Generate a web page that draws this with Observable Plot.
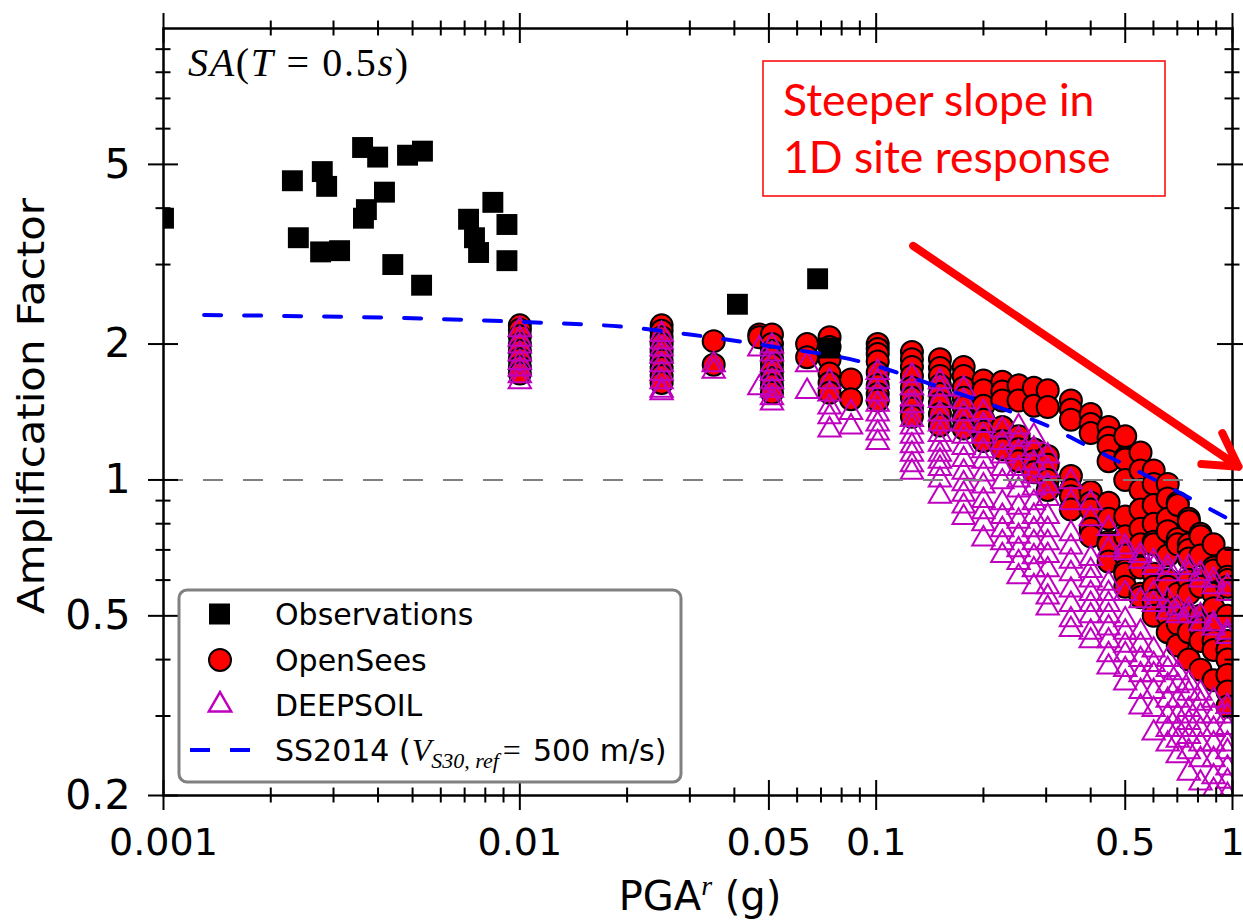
<!DOCTYPE html>
<html><head><meta charset="utf-8">
<script src="https://cdn.jsdelivr.net/npm/d3@7"></script>
<script src="https://cdn.jsdelivr.net/npm/@observablehq/plot@0.6"></script>
<style>body{margin:0;background:#fff;} svg{display:block;}</style>
</head><body><div id="chart"></div>
<script>
// ---------- data ----------
const observations = [
  [0.001,3.8],[0.0023,4.6],[0.00279,4.82],[0.00287,4.47],[0.00239,3.44],[0.00276,3.2],[0.00312,3.22],
  [0.00362,5.45],[0.00399,5.19],[0.00484,5.24],[0.00533,5.35],[0.00417,4.34],[0.00371,3.97],[0.00364,3.8],
  [0.0044,3.0],[0.0053,2.7],[0.00718,3.78],[0.00746,3.44],[0.00766,3.19],[0.0084,4.12],[0.0092,3.68],
  [0.0092,3.06],[0.0408,2.45],[0.0685,2.79],[0.074,1.96]
];
const openSeesCols = [
  [0.01, [2.2,2.15,2.08,2.0,1.93,1.85,1.78,1.72]],
  [0.025,[2.2,2.14,2.07,2.0,1.92,1.84,1.77,1.7,1.64]],
  [0.035,[2.03,1.8]],
  [0.047,[2.1,2.07]],
  [0.051,[2.1,2.0,1.93,1.86,1.8,1.74,1.68,1.62,1.56]],
  [0.064,[2.0,1.87]],
  [0.074,[2.07,1.97,1.85,1.72,1.64,1.56]],
  [0.085,[1.67,1.51]],
  [0.101,[2.0,1.95,1.9,1.83,1.73,1.62,1.55,1.5]],
  [0.126,[1.92,1.85,1.78,1.7,1.6,1.52,1.44,1.38]],
  [0.151,[1.85,1.77,1.7,1.62,1.55,1.48,1.4,1.32]],
  [0.176,[1.78,1.7,1.6,1.52,1.45,1.37,1.3]],
  [0.20, [1.66,1.58,1.46,1.36,1.28,1.22]],
  [0.226,[1.65,1.57,1.5,1.31,1.22,1.17]],
  [0.251,[1.62,1.5,1.25,1.17,1.1]],
  [0.277,[1.6,1.46,1.17,1.1,1.04]],
  [0.303,[1.58,1.45,1.13,1.08,1.0,0.95]],
  [0.352,[1.5,1.43,1.36,1.02,0.95,0.92,0.86]],
  [0.40, [1.4,1.33,1.27,0.94,0.89,0.86,0.78,0.75]],
  [0.449,[1.31,1.24,1.19,1.1,0.89,0.82,0.73,0.72,0.66]],
  [0.50, [1.25,1.12,1.11,1.0,0.83,0.75,0.68,0.63,0.62,0.58]],
  [0.552,[1.15,1.05,0.95,0.86,0.78,0.72,0.64,0.56,0.55]],
  [0.601,[1.05,0.98,0.88,0.8,0.73,0.72,0.62,0.58,0.54,0.5]],
  [0.658,[0.98,0.91,0.82,0.77,0.68,0.6,0.58,0.52,0.5,0.46]],
  [0.702,[0.89,0.88,0.74,0.72,0.56,0.52,0.48,0.43]],
  [0.754,[0.82,0.81,0.72,0.7,0.67,0.6,0.56,0.5,0.46,0.4]],
  [0.813,[0.76,0.75,0.68,0.6,0.58,0.5,0.47,0.44,0.38]],
  [0.885,[0.72,0.64,0.63,0.56,0.52,0.48,0.44,0.42,0.36]],
  [0.968,[0.67,0.61,0.6,0.58,0.5,0.44,0.42,0.4,0.37,0.34,0.315]]
];
const deepsoilCols = [
  [0.01, [2.15,2.05,1.98,1.9,1.82,1.76,1.7,1.65]],
  [0.025,[2.1,2.02,1.95,1.88,1.8,1.72,1.65,1.58,1.56]],
  [0.035,[1.8,1.74]],
  [0.047,[1.95,1.6]],
  [0.051,[1.98,1.9,1.8,1.72,1.65,1.58,1.52,1.48]],
  [0.064,[1.8,1.57]],
  [0.074,[1.65,1.55,1.45,1.38,1.29]],
  [0.085,[1.41,1.31]],
  [0.101,[1.73,1.65,1.55,1.47,1.4,1.33,1.27,1.21]],
  [0.126,[1.7,1.6,1.51,1.46,1.36,1.31,1.25,1.19,1.14,1.08,1.04]],
  [0.151,[1.65,1.59,1.5,1.4,1.33,1.26,1.2,1.14,1.1,1.06,1.0,0.92]],
  [0.176,[1.59,1.49,1.4,1.33,1.25,1.18,1.11,1.04,0.98,0.93,0.875,0.826]],
  [0.20, [1.41,1.32,1.25,1.16,1.1,1.03,0.97,0.9,0.85,0.8,0.74]],
  [0.226,[1.29,1.21,1.13,1.06,0.99,0.89,0.83,0.776,0.726,0.68]],
  [0.251,[1.31,1.23,1.15,1.06,1.0,0.95,0.87,0.81,0.75,0.7,0.656,0.61]],
  [0.277,[1.25,1.17,1.09,1.02,0.96,0.89,0.83,0.776,0.726,0.676,0.632,0.58]],
  [0.303,[1.13,1.05,0.97,0.91,0.83,0.776,0.726,0.68,0.632,0.58,0.55,0.52]],
  [0.352,[0.99,0.89,0.76,0.71,0.66,0.62,0.57,0.53,0.49,0.466]],
  [0.40, [0.89,0.82,0.67,0.63,0.6,0.56,0.53,0.5,0.46,0.44]],
  [0.449,[0.78,0.7,0.59,0.56,0.53,0.5,0.47,0.44,0.41,0.385]],
  [0.50, [0.71,0.69,0.56,0.49,0.46,0.43,0.41,0.38,0.355]],
  [0.552,[0.68,0.66,0.54,0.46,0.43,0.4,0.37,0.34,0.314]],
  [0.601,[0.66,0.64,0.56,0.53,0.42,0.39,0.37,0.34,0.31,0.275]],
  [0.658,[0.64,0.62,0.54,0.51,0.4,0.38,0.35,0.325,0.3,0.28,0.26]],
  [0.702,[0.64,0.52,0.5,0.374,0.35,0.325,0.3,0.28,0.265,0.245]],
  [0.754,[0.64,0.62,0.515,0.5,0.355,0.337,0.31,0.29,0.27,0.25,0.224]],
  [0.813,[0.62,0.6,0.5,0.48,0.337,0.32,0.3,0.28,0.26,0.24,0.213]],
  [0.885,[0.6,0.58,0.48,0.47,0.325,0.3,0.28,0.26,0.24,0.22,0.205]],
  [0.968,[0.58,0.56,0.46,0.45,0.315,0.3,0.283,0.26,0.25,0.23,0.215,0.2]]
];
const ss2014 = [
  [0.0013,2.32],[0.01,2.24],[0.02,2.18],[0.03,2.10],[0.05,1.98],[0.09,1.83],[0.149,1.61],
  [0.228,1.435],[0.308,1.31],[0.375,1.21],[0.617,0.993],[1.0,0.81]
];
const referenceLine = [1];
const annotationArrow = [{x1: 0.127, y1: 3.30, x2: 1.04, y2: 1.07}];
const xMajorTicks = [0.001, 0.01, 0.05, 0.1, 0.5, 1];
const xTickLabels = ["0.001", "0.01", "0.05", "0.1", "0.5", "1"];
const xMinorTicks = [0.002,0.003,0.004,0.005,0.006,0.007,0.008,0.009,0.02,0.03,0.04,0.06,0.07,0.08,0.09,0.2,0.3,0.4,0.6,0.7,0.8,0.9];
const yMajorTicks = [0.2, 0.5, 1, 2, 5];
const yTickLabels = ["0.2", "0.5", "1", "2", "5"];
const yMinorTicks = [0.3,0.4,0.6,0.7,0.8,0.9,3,4,6,7,8,9];
const legendLabels = ["Observations", "OpenSees", "DEEPSOIL"];

const openSees = openSeesCols.flatMap(([x, ys]) => ys.map(y => [x, y]));
const deepsoil = deepsoilCols.flatMap(([x, ys]) => ys.map(y => [x, y]));

// ---------- layout ----------
const WIDTH = 1243, HEIGHT = 923;
const mL = 163, mR = 11, mT = 28, mB = 128;
const H = HEIGHT - mT - mB, W = WIDTH - mL - mR;
const MAJ = 15, MIN = 7.5;
const tk = {stroke: "black", strokeWidth: 2};
const fx = d => d[0], fy = d => d[1];
const MAGENTA = "#bf00bf";

const chart = Plot.plot({
  width: WIDTH, height: HEIGHT,
  marginLeft: mL, marginRight: mR, marginTop: mT, marginBottom: mB,
  style: {fontFamily: "DejaVu Sans", color: "black", background: "white", overflow: "visible"},
  x: {type: "log", domain: [0.001, 1], axis: null},
  y: {type: "log", domain: [0.2, 10], axis: null},
  marks: [
    Plot.dot(openSees, {x: fx, y: fy, r: 11, fill: "#ff0000", stroke: "black", strokeWidth: 2, clip: true}),
    Plot.dot(deepsoil, {x: fx, y: fy, symbol: "triangle", r: 8.3, fill: "none", stroke: MAGENTA, strokeWidth: 2, clip: true}),
    Plot.dot(observations, {x: fx, y: fy, symbol: "square", r: 11.8, fill: "black", clip: true}),
    Plot.ruleY(referenceLine, {stroke: "#808080", strokeWidth: 2, strokeDasharray: "20,20"}),
    Plot.line(ss2014, {x: fx, y: fy, stroke: "#0000ff", strokeWidth: 4, strokeDasharray: "17,23", curve: "monotone-x"}),
    // ticks crossing the spines
    Plot.tickX(xMajorTicks, {x: d => d, insetTop: H - MAJ, insetBottom: -MAJ, ...tk}),
    Plot.tickX(xMajorTicks, {x: d => d, insetBottom: H - MAJ, insetTop: -MAJ, ...tk}),
    Plot.tickX(xMinorTicks, {x: d => d, insetTop: H - MIN, insetBottom: -MIN, ...tk}),
    Plot.tickX(xMinorTicks, {x: d => d, insetBottom: H - MIN, insetTop: -MIN, ...tk}),
    Plot.tickY(yMajorTicks, {y: d => d, insetRight: W - MAJ, insetLeft: -MAJ, ...tk}),
    Plot.tickY(yMajorTicks, {y: d => d, insetLeft: W - MAJ, insetRight: -MAJ, ...tk}),
    Plot.tickY(yMinorTicks, {y: d => d, insetRight: W - MIN, insetLeft: -MIN, ...tk}),
    Plot.tickY(yMinorTicks, {y: d => d, insetLeft: W - MIN, insetRight: -MIN, ...tk}),
    Plot.frame({stroke: "black", strokeWidth: 2.5}),
    // tick labels
    Plot.text(xMajorTicks, {x: d => d, text: (d, i) => xTickLabels[i], frameAnchor: "bottom", lineAnchor: "top", dy: 33, fontSize: 38, fill: "black"}),
    Plot.text(yMajorTicks, {y: d => d, text: (d, i) => yTickLabels[i], frameAnchor: "left", textAnchor: "end", dx: -33, fontSize: 41, fill: "black"}),
    Plot.arrow(annotationArrow, {x1: "x1", y1: "y1", x2: "x2", y2: "y2", stroke: "#ff0000", strokeWidth: 8, headLength: 7, headAngle: 60})
  ]
});
document.getElementById("chart").append(chart);

// ---------- overlays (text, legend, annotation box) ----------
const svg = d3.select(chart);
const SERIF = "'Liberation Serif', 'DejaVu Serif', serif";

// axis labels
svg.append("text")
  .attr("transform", "translate(44,406) rotate(-90)")
  .attr("text-anchor", "middle").attr("font-family", "DejaVu Sans").attr("font-size", 38)
  .attr("textLength", 416).attr("lengthAdjust", "spacingAndGlyphs")
  .text("Amplification Factor");

const xl = svg.append("text").attr("x", 700).attr("y", 910)
  .attr("text-anchor", "middle").attr("font-family", "DejaVu Sans").attr("font-size", 40);
xl.append("tspan").text("PGA");
xl.append("tspan").attr("dy", -15).attr("font-family", SERIF).attr("font-style", "italic").attr("font-size", 28).text("r");
xl.append("tspan").attr("dy", 15).text(" (g)");

// panel label SA(T=0.5s)
const sa = svg.append("text").attr("x", 188).attr("y", 76).attr("text-anchor", "start")
  .attr("font-family", SERIF).attr("font-size", 40)
  .attr("textLength", 220).attr("lengthAdjust", "spacing");
[["SA", true], ["(", false], ["T", true], [" = ", false], ["0.5", false], ["s", true], [")", false]]
  .forEach(([t, it]) => sa.append("tspan").attr("font-style", it ? "italic" : "normal").text(t));

// annotation box
svg.append("rect").attr("x", 763).attr("y", 61).attr("width", 402).attr("height", 135)
  .attr("fill", "white").attr("stroke", "#ff0000").attr("stroke-width", 1.5);
["Steeper slope in", "1D site response"].forEach((t, i) =>
  svg.append("text").attr("x", 783).attr("y", 116 + 57 * i).attr("text-anchor", "start").attr("fill", "#ff0000")
    .attr("font-family", "Lato, 'Open Sans', sans-serif").attr("font-size", 44.5).text(t));

// legend
const lg = svg.append("g").attr("text-anchor", "start");
lg.append("rect").attr("x", 179).attr("y", 590).attr("width", 502).attr("height", 192).attr("rx", 8)
  .attr("fill", "white").attr("stroke", "#808080").attr("stroke-width", 3);
const rows = [614, 660, 705, 750];
lg.append("rect").attr("x", 209).attr("y", rows[0] - 10.5).attr("width", 21).attr("height", 21).attr("fill", "black");
lg.append("circle").attr("cx", 220).attr("cy", rows[1]).attr("r", 11).attr("fill", "#ff0000").attr("stroke", "black").attr("stroke-width", 2);
lg.append("path").attr("d", d3.symbol(d3.symbolTriangle, Math.PI * 8.3 * 8.3)())
  .attr("transform", `translate(220,${rows[2]})`).attr("fill", "none").attr("stroke", MAGENTA).attr("stroke-width", 2.5);
lg.append("line").attr("x1", 190).attr("x2", 250).attr("y1", rows[3]).attr("y2", rows[3])
  .attr("stroke", "#0000ff").attr("stroke-width", 4).attr("stroke-dasharray", "20,20");
legendLabels.forEach((t, i) => lg.append("text").attr("x", 275).attr("y", rows[i] + 11)
  .attr("font-family", "DejaVu Sans").attr("font-size", 30).text(t));
const ssText = lg.append("text").attr("x", 275).attr("y", rows[3] + 11).attr("font-family", "DejaVu Sans").attr("font-size", 30);
ssText.append("tspan").text("SS2014 (");
ssText.append("tspan").attr("dx", 1).attr("font-family", SERIF).attr("font-style", "italic").attr("font-size", 32).text("V");
ssText.append("tspan").attr("dy", 7).attr("font-family", SERIF).attr("font-style", "italic").attr("font-size", 22).text("S30, ref");
ssText.append("tspan").attr("dy", -7).attr("dx", 4).attr("font-family", SERIF).attr("font-size", 32).text("=");
ssText.append("tspan").attr("dx", 12).text("500 m/s)");
</script>
</body></html>
